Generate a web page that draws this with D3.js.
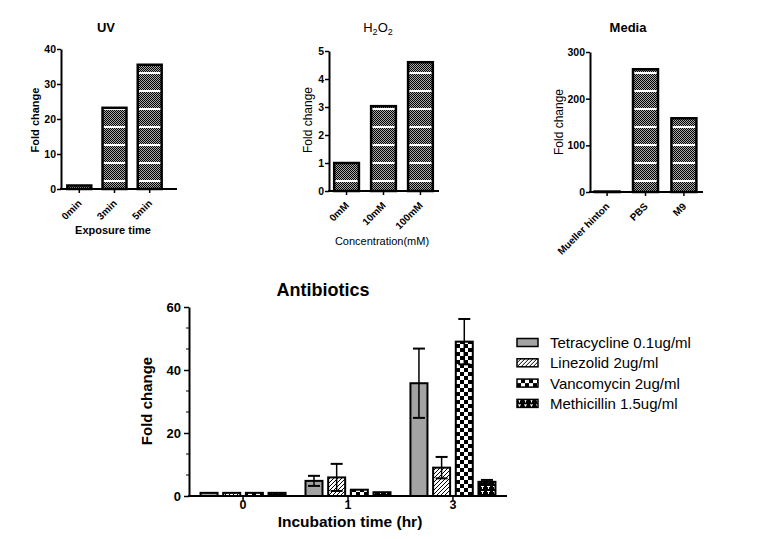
<!DOCTYPE html>
<html><head><meta charset="utf-8">
<script src="https://cdn.jsdelivr.net/npm/d3@7"></script>
<style>body{margin:0;background:#fff} text{font-family:"Liberation Sans",Arial,sans-serif}</style>
</head><body><svg id="c" width="759" height="539"></svg>
<script>
// ---------- data ----------
const uvCategories = ["0min", "3min", "5min"];
const uvValues = [1.0, 23.2, 35.5];
const uvTicks = [0, 10, 20, 30, 40];

const h2o2Categories = ["0mM", "10mM", "100mM"];
const h2o2Values = [1.0, 3.03, 4.6];
const h2o2Ticks = [0, 1, 2, 3, 4, 5];

const mediaCategories = ["Mueller hinton", "PBS", "M9"];
const mediaValues = [1, 263, 158];
const mediaTicks = [0, 100, 200, 300];

const abTimes = ["0", "1", "3"];
const abSeries = ["Tetracycline 0.1ug/ml", "Linezolid 2ug/ml", "Vancomycin 2ug/ml", "Methicillin 1.5ug/ml"];
const tetraMean = [1.0, 4.8, 35.8];
const tetraErr = [0, 1.6, 11.0];
const linezolidMean = [1.0, 5.9, 9.0];
const linezolidErr = [0, 4.3, 3.4];
const vancoMean = [1.0, 2.0, 49.0];
const vancoErr = [0, 0.2, 7.2];
const methMean = [1.0, 1.2, 4.5];
const methErr = [0, 0.1, 0.6];
const abTicks = [0, 20, 40, 60];

// ---------- setup ----------
const svg = d3.select("#c");
const defs = svg.append("defs");

// dense checker with white stripes (top charts)
const pd = defs.append("pattern").attr("id", "dense").attr("patternUnits", "userSpaceOnUse")
  .attr("width", 2).attr("height", 18);
pd.append("rect").attr("width", 2).attr("height", 18).attr("fill", "#fff");
pd.append("rect").attr("y", 2).attr("width", 2).attr("height", 16).attr("fill", "#a8a8a8");
for (let yy = 2; yy < 18; yy++) {
  pd.append("rect").attr("x", yy % 2).attr("y", yy).attr("width", 1).attr("height", 1).attr("fill", "#000");
}
// hatch
const ph = defs.append("pattern").attr("id", "hatch").attr("patternUnits", "userSpaceOnUse")
  .attr("width", 4).attr("height", 4);
ph.append("rect").attr("width", 4).attr("height", 4).attr("fill", "#fff");
ph.append("path").attr("d", "M-1,1 l2,-2 M0,4 l4,-4 M3,5 l2,-2").attr("stroke", "#000").attr("stroke-width", 1);
// checker
const pc = defs.append("pattern").attr("id", "checker").attr("patternUnits", "userSpaceOnUse")
  .attr("width", 8).attr("height", 8);
pc.append("rect").attr("width", 8).attr("height", 8).attr("fill", "#fff");
pc.append("rect").attr("width", 4).attr("height", 4).attr("fill", "#000");
pc.append("rect").attr("x", 4).attr("y", 4).attr("width", 4).attr("height", 4).attr("fill", "#000");
// methicillin
const pm = defs.append("pattern").attr("id", "meth").attr("patternUnits", "userSpaceOnUse")
  .attr("width", 6).attr("height", 5);
pm.append("rect").attr("width", 6).attr("height", 5).attr("fill", "#000");
pm.append("rect").attr("x", 1).attr("y", 1).attr("width", 3).attr("height", 1).attr("fill", "#fff");
pm.append("rect").attr("x", 2).attr("y", 2).attr("width", 1).attr("height", 2).attr("fill", "#fff");

function smallChart(cfg) {
  const g = svg.append("g");
  const y = d3.scaleLinear().domain([0, cfg.max]).range([cfg.y0, cfg.yTop]);
  const x = d3.scaleBand().domain(cfg.cats).range([cfg.x0, cfg.x1])
    .paddingInner(cfg.pIn).paddingOuter(cfg.pOut);

  g.selectAll("rect.bar").data(cfg.values).enter().append("rect")
    .attr("x", (d, i) => x(cfg.cats[i]))
    .attr("y", d => y(d))
    .attr("width", x.bandwidth())
    .attr("height", d => Math.max(0.5, cfg.y0 - y(d)))
    .attr("fill", "url(#dense)").attr("stroke", "#000").attr("stroke-width", 2.5);

  const ya = g.append("g").attr("transform", `translate(${cfg.x0},0)`)
    .call(d3.axisLeft(y).tickValues(cfg.ticks).tickSize(4).tickSizeOuter(0).tickPadding(1).tickFormat(d3.format("d")));
  ya.select(".domain").attr("stroke-width", 2);
  ya.selectAll(".tick line").attr("stroke-width", 1.5);
  ya.selectAll("text").attr("font-size", 10.5).attr("font-weight", "bold")
    .attr("font-family", '"Liberation Sans",Arial,sans-serif').attr("fill", "#000");

  const xa = g.append("g").attr("transform", `translate(0,${cfg.y0})`)
    .call(d3.axisBottom(x).tickSize(4).tickSizeOuter(0));
  xa.select(".domain").remove();
  xa.selectAll(".tick line").attr("stroke-width", 1.5);
  xa.selectAll("text").attr("x", 0).attr("y", 0).attr("dy", 0)
    .attr("transform", "translate(3,15) rotate(-45)").attr("text-anchor", "end")
    .attr("font-size", 10).attr("font-weight", "bold")
    .attr("font-family", '"Liberation Sans",Arial,sans-serif').attr("fill", "#000");
  g.append("line").attr("x1", cfg.x0 - 1).attr("x2", cfg.axisEnd).attr("y1", cfg.y0).attr("y2", cfg.y0)
    .attr("stroke", "#000").attr("stroke-width", 2);

  // title
  const t = g.append("text").attr("x", cfg.titleX).attr("y", cfg.titleY).attr("text-anchor", "middle")
    .attr("font-size", 13).attr("font-weight", cfg.titleBold ? "bold" : "normal");
  if (cfg.sub) {
    t.append("tspan").text("H");
    t.append("tspan").text("2").attr("font-size", 9).attr("dy", 3);
    t.append("tspan").text("O").attr("dy", -3);
    t.append("tspan").text("2").attr("font-size", 9).attr("dy", 3);
  } else t.text(cfg.title);

  g.append("text").attr("transform", `translate(${cfg.ylabX},${cfg.ylabY}) rotate(-90)`)
    .attr("text-anchor", "middle").attr("font-size", cfg.labBold ? 11 : 12)
    .attr("font-weight", cfg.labBold ? "bold" : "normal").text("Fold change");
  if (cfg.xlabel) {
    g.append("text").attr("x", cfg.xlabX).attr("y", cfg.xlabY).attr("text-anchor", "middle")
      .attr("font-size", 11).attr("font-weight", cfg.labBold ? "bold" : "normal").text(cfg.xlabel);
  }
}

smallChart({cats: uvCategories, values: uvValues, ticks: uvTicks, max: 40,
  x0: 61, x1: 168, axisEnd: 177, y0: 189, yTop: 49, pIn: 0.32, pOut: 0.18,
  title: "UV", titleBold: true, titleX: 106, titleY: 32, labBold: true,
  ylabX: 39, ylabY: 120, xlabel: "Exposure time", xlabX: 113, xlabY: 234});

smallChart({cats: h2o2Categories, values: h2o2Values, ticks: h2o2Ticks, max: 5,
  x0: 329, x1: 438, axisEnd: 439, y0: 191, yTop: 51, pIn: 0.33, pOut: 0.14,
  sub: true, titleBold: false, titleX: 378, titleY: 32, labBold: false,
  ylabX: 312, ylabY: 120, xlabel: "Concentration(mM)", xlabX: 382, xlabY: 245});

smallChart({cats: mediaCategories, values: mediaValues, ticks: mediaTicks, max: 300,
  x0: 590, x1: 701, axisEnd: 703, y0: 192, yTop: 52, pIn: 0.35, pOut: 0.12,
  title: "Media", titleBold: true, titleX: 628, titleY: 32, labBold: false,
  ylabX: 563, ylabY: 122, xlabel: null});

// ---------- Antibiotics ----------
(function () {
  const g = svg.append("g");
  const x0 = 189, x1 = 507, y0 = 496, yTop = 307;
  const y = d3.scaleLinear().domain([0, 60]).range([y0, yTop]);
  const x = d3.scaleBand().domain(abTimes).range([x0, x1]).paddingInner(0.19).paddingOuter(0.11);
  const xs = d3.scaleBand().domain(abSeries).range([0, x.bandwidth()]).paddingInner(0.25).paddingOuter(0);
  const fills = ["#a3a3a3", "url(#hatch)", "url(#checker)", "url(#meth)"];
  const means = [tetraMean, linezolidMean, vancoMean, methMean];
  const errs = [tetraErr, linezolidErr, vancoErr, methErr];

  const rows = [];
  abSeries.forEach((s, si) => abTimes.forEach((t, ti) => rows.push({s, si, t, m: means[si][ti], e: errs[si][ti]})));

  g.selectAll("rect.ab").data(rows).enter().append("rect")
    .attr("x", d => x(d.t) + xs(d.s)).attr("y", d => y(d.m))
    .attr("width", xs.bandwidth()).attr("height", d => y0 - y(d.m))
    .attr("fill", d => fills[d.si]).attr("stroke", "#000").attr("stroke-width", 2);

  const eb = g.selectAll("g.err").data(rows.filter(d => d.e > 0.3)).enter().append("g");
  eb.append("line").attr("x1", d => x(d.t) + xs(d.s) + xs.bandwidth() / 2)
    .attr("x2", d => x(d.t) + xs(d.s) + xs.bandwidth() / 2)
    .attr("y1", d => y(d.m - d.e)).attr("y2", d => y(d.m + d.e)).attr("stroke", "#000").attr("stroke-width", 1.5);
  [1, -1].forEach(sgn => {
    eb.append("line").attr("x1", d => x(d.t) + xs(d.s) + xs.bandwidth() / 2 - 6)
      .attr("x2", d => x(d.t) + xs(d.s) + xs.bandwidth() / 2 + 6)
      .attr("y1", d => y(d.m + sgn * d.e)).attr("y2", d => y(d.m + sgn * d.e))
      .attr("stroke", "#000").attr("stroke-width", 2);
  });

  const ya = g.append("g").attr("transform", `translate(${x0},0)`)
    .call(d3.axisLeft(y).tickValues(abTicks).tickSize(5).tickSizeOuter(0).tickPadding(3));
  ya.select(".domain").attr("stroke-width", 2);
  ya.selectAll(".tick line").attr("stroke-width", 1.5);
  ya.selectAll("text").attr("font-size", 13).attr("font-weight", "bold")
    .attr("font-family", '"Liberation Sans",Arial,sans-serif').attr("fill", "#000");
  const minor = d3.range(1, 9).filter(i => i % 3 !== 0).map(i => i * 20 / 3);
  g.selectAll("line.minor").data(minor).enter().append("line")
    .attr("x1", x0 - 3).attr("x2", x0).attr("y1", d => y(d)).attr("y2", d => y(d))
    .attr("stroke", "#000").attr("stroke-width", 1);

  const xa = g.append("g").attr("transform", `translate(0,${y0})`)
    .call(d3.axisBottom(x).tickSize(4).tickSizeOuter(0).tickPadding(0));
  xa.select(".domain").remove();
  xa.selectAll(".tick line").attr("stroke-width", 1.5);
  xa.selectAll("text").attr("font-size", 12.5).attr("font-weight", "bold")
    .attr("font-family", '"Liberation Sans",Arial,sans-serif').attr("fill", "#000");
  g.append("line").attr("x1", x0 - 1).attr("x2", x1).attr("y1", y0).attr("y2", y0)
    .attr("stroke", "#000").attr("stroke-width", 2);

  g.append("text").attr("x", 323).attr("y", 296).attr("text-anchor", "middle")
    .attr("font-size", 18).attr("font-weight", "bold").text("Antibiotics");
  g.append("text").attr("x", 350).attr("y", 527).attr("text-anchor", "middle")
    .attr("font-size", 15.5).attr("font-weight", "bold").text("Incubation time (hr)");
  g.append("text").attr("transform", "translate(152,401) rotate(-90)").attr("text-anchor", "middle")
    .attr("font-size", 15).attr("font-weight", "bold").text("Fold change");

  // legend
  const lg = g.selectAll("g.leg").data(abSeries).enter().append("g")
    .attr("transform", (d, i) => `translate(517,${342.5 + i * 20.3})`);
  lg.append("rect").attr("x", 0).attr("y", -4).attr("width", 21).attr("height", 8)
    .attr("fill", (d, i) => fills[i]).attr("stroke", "#000").attr("stroke-width", 1.5);
  lg.append("text").attr("x", 33).attr("y", 5.5).attr("font-size", 15).text(d => d);
})();
</script></body></html>
